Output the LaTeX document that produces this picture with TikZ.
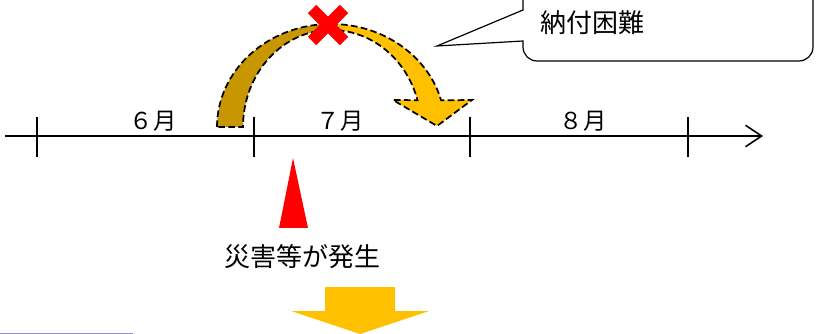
\documentclass[tikz,border=0pt]{standalone}
\usepackage{fontspec}
\newfontfamily\jp{Noto Sans CJK JP}
\usetikzlibrary{arrows.meta}
\definecolor{gold}{RGB}{255,192,0}
\definecolor{darkgold}{RGB}{200,150,0}
\definecolor{lav}{RGB}{150,140,220}
\begin{document}
\begin{tikzpicture}[x=0.75pt,y=-0.75pt,
  lbl/.style={inner sep=0pt,font=\jp\fontsize{17.5pt}{20pt}\selectfont},
  big/.style={inner sep=0pt,font=\jp\fontsize{19.5pt}{22pt}\selectfont},
  band/.style={draw=black,line width=1.3pt,dash pattern=on 5pt off 2.5pt},
  tick/.style={line width=0.9pt},
  axis/.style={line width=1.5pt}]
\useasboundingbox (0,0) rectangle (816,334);
\clip (0,0) rectangle (816,334);
% axis
\coordinate (a0) at (5,136);
\coordinate (a1) at (763,136);
\draw[axis,-{Straight Barb[length=12pt,width=16pt,line width=1.2pt]}] (a0) -- (a1);
\foreach \x/\n in {37/t1,254/t2,470/t3,688/t4}{
  \coordinate (\n a) at (\x,117);
  \coordinate (\n b) at (\x,157);
  \draw[tick] (\n a) -- (\n b);
}
% month labels
\node[lbl] (m6) at (153,121) {６月};
\node[lbl] (m7) at (340,121) {７月};
\node[lbl] (m8) at (583,121) {８月};
% curved arrow: back (dark) band
\fill[darkgold] (217,127) arc[start angle=180,end angle=270,x radius=114,y radius=103]
  -- (331,30) arc[start angle=270,end angle=180,x radius=88,y radius=97] -- cycle;
\draw[band] (217,127) arc[start angle=180,end angle=270,x radius=114,y radius=103]
  -- (331,30) arc[start angle=270,end angle=180,x radius=88,y radius=97] -- cycle;
% front band with head
\path[fill=gold] (331,24) arc[start angle=-90,end angle=-15,x radius=114,y radius=103]
  -- (472,100) -- (437,126) -- (393,100) -- (417.5,100.2)
  arc[start angle=-16,end angle=-90,x radius=90,y radius=97] -- cycle;
\draw[band] (331,24) arc[start angle=-90,end angle=-15,x radius=114,y radius=103]
  -- (472,100) -- (437,126) -- (393,100) -- (417.5,100.2)
  arc[start angle=-16,end angle=-90,x radius=90,y radius=97] -- cycle;
% red cross
\draw[red,line width=9pt] (312,9) -- (344,41);
\draw[red,line width=9pt] (344,9) -- (312,41);
% callout
\draw[fill=white,line width=0.9pt] (523,-5) -- (523,10) -- (437,46) -- (523,41) -- (523,47)
  arc[start angle=180,end angle=90,radius=14] -- (799,61)
  arc[start angle=90,end angle=0,radius=14] -- (813,-5);
\node[big,anchor=west] (note) at (540,23) {納付困難};
% red triangle
\fill[red] (293,158) -- (308,228) -- (279,228) -- cycle;
\node[big] (event) at (302,257) {災害等が発生};
% bottom arrow
\fill[gold] (325,287) -- (395,287) -- (395,311) -- (429,311) -- (360,334) -- (291,311) -- (325,311) -- cycle;
% bottom-left line
\coordinate (b0) at (0,333.3);
\coordinate (b1) at (133,333.3);
\draw[lav,line width=1.2pt] (b0) -- (b1);
\end{tikzpicture}
\end{document}
